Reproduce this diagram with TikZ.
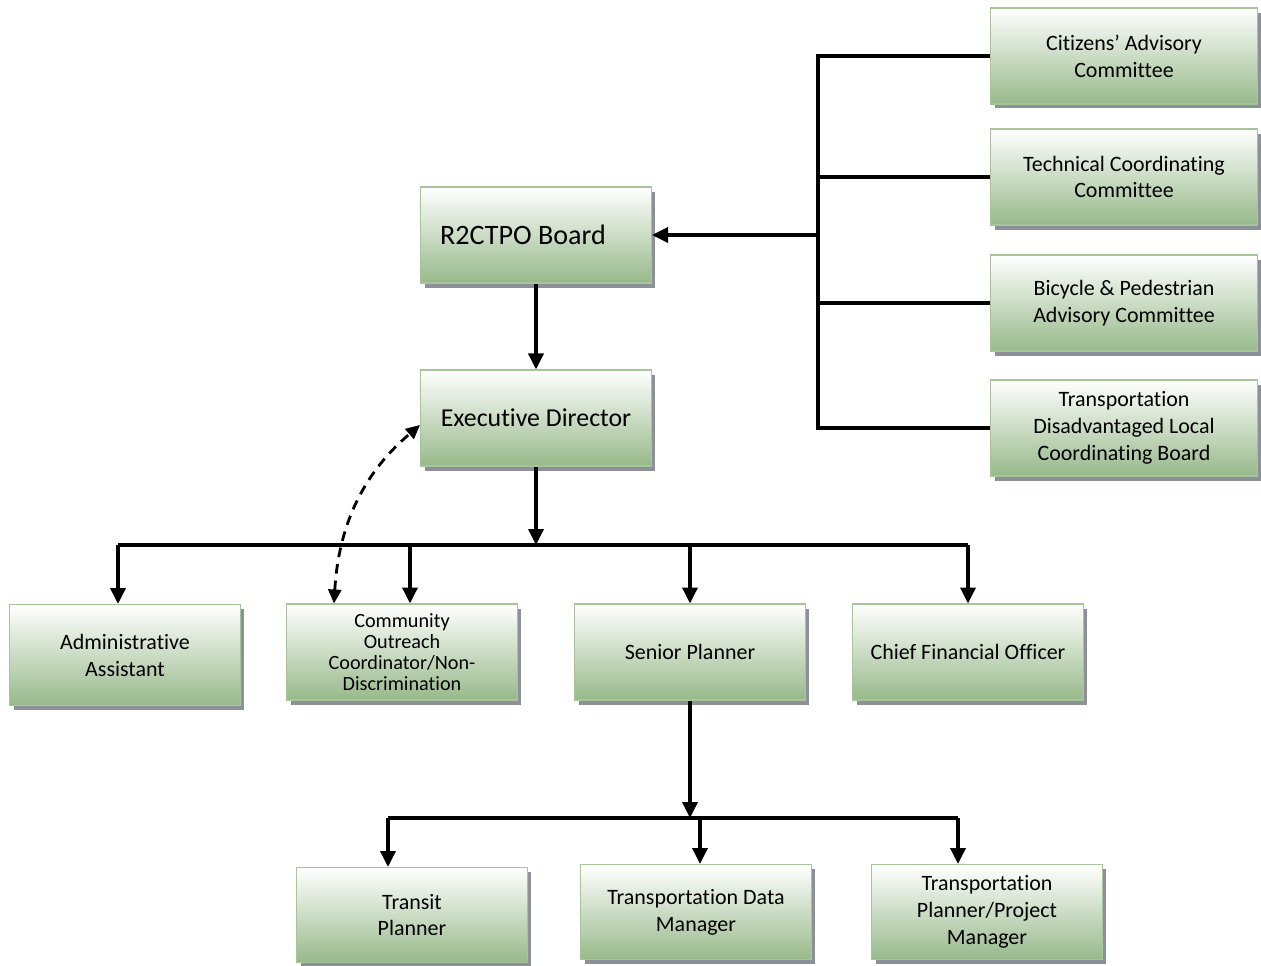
\documentclass[tikz,border=0pt]{standalone}
\usepackage{fontspec}
\setmainfont{Carlito}[Ligatures=NoCommon]
\usetikzlibrary{arrows.meta,positioning,calc,shadows}
\definecolor{boxgreen}{HTML}{97B98A}
\definecolor{boxedge}{HTML}{A7C49B}
\definecolor{shadowgray}{HTML}{8E9099}
\tikzset{
  unit/.style={draw=boxedge, line width=0.6pt, top color=white, bottom color=boxgreen,
    minimum width=4.62cm, minimum height=1.92cm, align=center, inner sep=2pt,
    drop shadow={shadow xshift=0.08cm, shadow yshift=-0.09cm, fill=shadowgray, opacity=1},
    font=\fontsize{12.5}{15.3}\selectfont},
  cmte/.style={unit, minimum width=5.34cm},
  link/.style={line width=2pt},
  feed/.style={link, -{Triangle[length=3.2mm, width=3mm]}},
}
\begin{document}
\begin{tikzpicture}[x=0.02cm, y=-0.02cm]
\useasboundingbox (0,0) rectangle (1261,965);
% board and director
\node[unit, font=\fontsize{16}{19}\selectfont] (board) at (536,235) {R2CTPO Board\hspace*{0.52cm}};
\node[unit, font=\fontsize{14.7}{17}\selectfont] (exec) at (536,418) {Executive Director};
% committees
\node[cmte] (cac) at (1124,56) {Citizens’ Advisory\\Committee};
\node[cmte] (tcc) at (1124,177) {Technical Coordinating\\Committee};
\node[cmte] (bpac) at (1124,303) {Bicycle \& Pedestrian\\Advisory Committee};
\node[cmte] (tdlcb) at (1124,428) {Transportation\\Disadvantaged Local\\Coordinating Board};
% staff
\node[unit, minimum height=2.02cm] (aa) at (125,655) {Administrative\\Assistant};
\node[unit, font=\fontsize{11.5}{12}\selectfont] (cao) at (402,652) {Community\\Outreach\\Coordinator/Non-\\Discrimination};
\node[unit] (sp) at (690,652) {Senior Planner};
\node[unit] (cfo) at (968,652) {Chief Financial Officer};
% planners
\node[unit, minimum height=1.9cm] (tp) at (412,915) {Transit\\Planner};
\node[unit, minimum height=1.9cm] (tdm) at (696,912) {Transportation Data\\Manager};
\node[unit, minimum height=1.9cm] (tppm) at (987,912) {Transportation\\Planner/Project\\Manager};
% committee links
\coordinate (hub) at (818,428);
\draw[link] (cac.west) -| (hub) -- (tdlcb.west);
\draw[link] (tcc.west) -- (tcc.west -| hub);
\draw[link] (bpac.west) -- (bpac.west -| hub);
\draw[feed] (board.east -| hub) -- (board.east);
% chain of command
\draw[feed] (board.south) -- (exec.north);
\coordinate (split) at (536,545);
\draw[feed] (exec.south) -- (split);
\foreach \n/\dx in {aa/-7,cao/8,sp/0,cfo/0}
  \path ($(\n.north)+(\dx,0)$) coordinate (drop\n);
\draw[link] (dropaa |- split) -- (dropcfo |- split);
\foreach \n in {aa,cao,sp,cfo}
  \draw[feed] (drop\n |- split) -- (drop\n);
\coordinate (split2) at (690,818);
\draw[feed] (sp.south) -- (split2);
\foreach \n/\dx in {tp/-24,tdm/4,tppm/-29}
  \path ($(\n.north)+(\dx,0)$) coordinate (drop\n);
\draw[link] (droptp |- split2) -- (droptppm |- split2);
\foreach \n in {tp,tdm,tppm}
  \draw[feed] (drop\n |- split2) -- (drop\n);
% dotted reporting line
\coordinate (dtop) at ([yshift=-0.14cm]exec.west);
\coordinate (dbot) at ($(cao.north west)+(48,0)$);
\draw[link, line width=1.6pt, dash pattern=on 5.5pt off 4pt,
  {Triangle[length=2.8mm, width=2.6mm]}-{Triangle[length=2.8mm, width=2.6mm]}]
  (dbot) .. controls (340,500) and (385,455) .. (dtop);
\end{tikzpicture}
\end{document}
